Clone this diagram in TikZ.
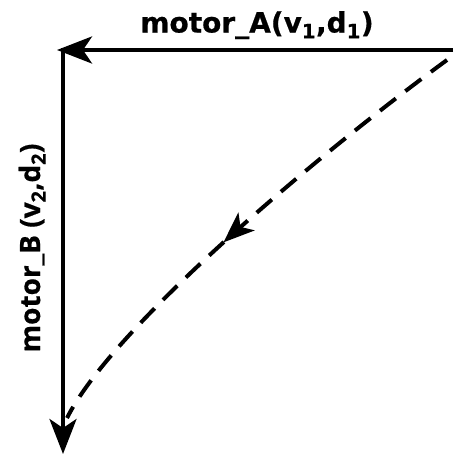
\documentclass[tikz,border=0pt]{standalone}
\usepackage{fontspec}
\setmainfont{DejaVu Sans}
\newfontfamily\motorAfont{DejaVu Sans}[BoldFeatures={FakeBold=0.6}]
\newfontfamily\motorBfont{Open Sans}[BoldFeatures={FakeBold=0.6}]
\usetikzlibrary{arrows.meta, decorations.markings}

\begin{document}
\begin{tikzpicture}[
    x=1pt, y=-1pt,
    axisline/.style={
      line width=4pt,
      -{Stealth[length=35pt, width=27pt, inset=9pt]}
    },
    pathline/.style={
      line width=4pt,
      dash pattern=on 20pt off 12pt,
      postaction={decorate},
      decoration={markings,
        mark=at position 0.55 with {\arrow{Stealth[length=31pt, width=24pt, inset=8pt]}}}
    },
    lab/.style={
      inner sep=0pt,
      anchor=base
    }
  ]
    \useasboundingbox (0,0) rectangle (453,455);

    \coordinate (corner) at (63,50);
    \coordinate (astart) at (453,50);
    \coordinate (atip) at (57,50);
    \coordinate (btip) at (63,454);
    \coordinate (pstart) at (447,60);
    \coordinate (pend) at (67,418);

    % motor axes
    \draw[axisline] (astart) -- (atip);
    \draw[axisline] ([yshift=2pt]corner) -- (btip);

    % resulting path
    \draw[pathline] (pstart) .. controls (317,155) and (112,328) .. (pend);

    \node[lab, font=\motorAfont\bfseries\fontsize{28}{32}\selectfont] (labA) at (257,32.5) {motor\_A(v\textsubscript{1},d\textsubscript{1})};
    \node[lab, rotate=90, font=\motorBfont\bfseries\fontsize{28}{32}\selectfont] (labB) at (40,248) {motor\_B (v\textsubscript{2},d\textsubscript{2})};
  \end{tikzpicture}
\end{document}
